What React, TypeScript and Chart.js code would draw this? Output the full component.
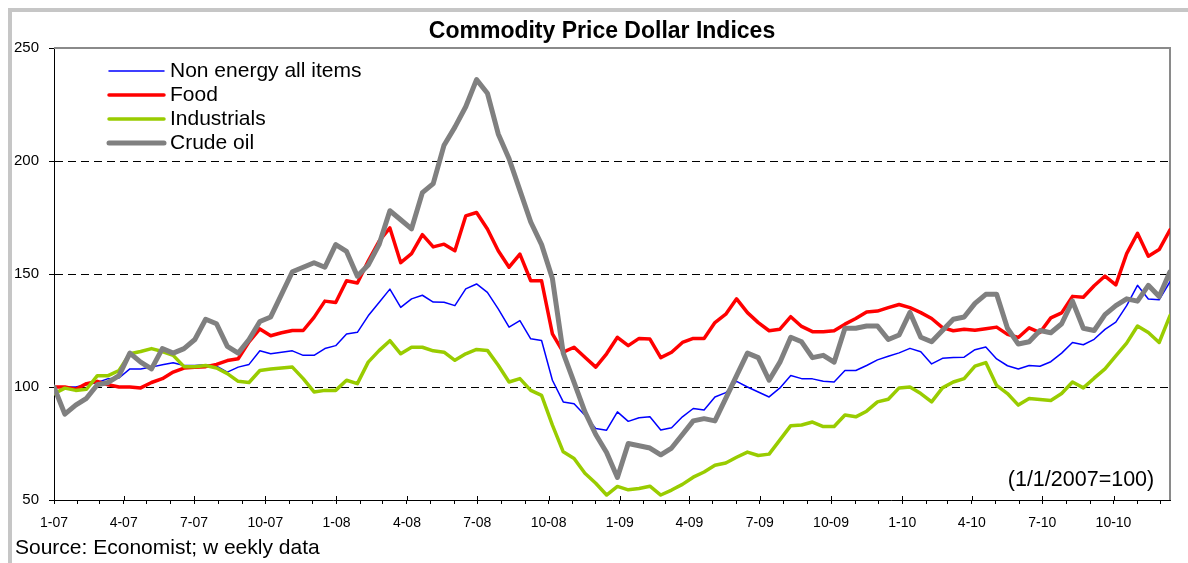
import React, { useEffect, useRef } from 'react';
import { Chart, registerables } from 'chart.js';

Chart.register(...registerables);

// Weekly index data, sampled every 2 weeks starting 1 Jan 2007 (1/1/2007 = 100)
const NON_ENERGY = [
  100, 100, 100, 101, 102, 103.7, 104, 108, 108, 108.8,
  109.8, 110.7, 109.5, 109.5, 109.8, 109.2, 106.6, 108.8, 110, 116,
  114.7, 115.4, 116, 114, 114, 117, 118.3, 123.5, 124.2, 131.5,
  137.4, 143.3, 135.2, 139, 140.6, 137.6, 137.5, 136, 143.4, 145.6,
  141.9, 134.6, 126.5, 129.4, 121.3, 120.6, 103, 93.4, 92.6, 87.5,
  81.6, 80.9, 89, 84.8, 86.4, 86.8, 81, 82, 86.8, 90.5,
  89.8, 95.6, 97.5, 102.5, 100, 97.8, 95.6, 99.6, 105.1, 103.7,
  103.6, 102.5, 102.2, 107.3, 107.3, 109.5, 112, 113.6, 115.1, 117.1,
  115.6, 110.2, 112.7, 113, 113.2, 116.5, 117.7, 112.4, 109.4, 108,
  109.5, 109.2, 111.2, 115, 119.7, 118.7, 121.1, 125.5, 128.7, 136,
  145, 138.9, 138.6, 146.6,
];

const FOOD = [
  100, 100, 99, 101.5, 102.5, 101, 100, 100, 99.6, 102,
  103.7, 106.6, 108.4, 108.7, 109, 110, 111.7, 112.5, 120, 125.7,
  122.7, 124, 125, 125, 130.8, 138, 137.4, 147, 146, 155.7,
  164.5, 170.4, 155, 159, 167.4, 162, 163.2, 160.3, 175.7, 177.2,
  169.9, 160.3, 153, 158.8, 147, 147, 123.5, 115.4, 117.6, 113.2,
  108.8, 114.7, 122, 118.3, 121.5, 121.2, 113, 115.4, 119.7, 121.5,
  121.5, 128.5, 132.2, 139, 132.9, 128.5, 124.9, 125.6, 131.1, 126.8,
  124.5, 124.4, 124.9, 127.8, 130.3, 133.2, 133.6, 135.1, 136.5, 135.1,
  132.9, 130.3, 126.3, 124.9, 125.6, 125.1, 125.8, 126.5, 123.3, 121.9,
  126.2, 124.1, 130.6, 132.8, 140.1, 139.7, 144.8, 149.1, 145.2, 159,
  168, 157.9, 160.8, 169.5,
];

const INDUSTRIALS = [
  97, 99.5, 98.5, 99, 105, 105, 107.3, 114.7, 115.7, 117,
  115.7, 114, 109, 109, 109.5, 108.4, 105.9, 102.5, 102, 107.3,
  108, 108.4, 108.8, 103.7, 97.8, 98.5, 98.5, 103, 101.5, 111,
  116.1, 120.5, 114.7, 117.6, 117.6, 116, 115.4, 111.8, 114.7, 116.6,
  116.2, 109.6, 102.2, 103.7, 98.5, 96.3, 83.1, 71.3, 68.4, 61.8,
  57.4, 52.2, 56, 54.5, 55.1, 56.1, 52.2, 54.4, 56.9, 60.1,
  62.4, 65.4, 66.4, 68.9, 71.2, 69.7, 70.3, 76.6, 82.9, 83.2,
  84.5, 82.5, 82.5, 87.6, 86.8, 89.3, 93.4, 94.6, 99.6, 100,
  97.1, 93.4, 99.6, 102.2, 103.7, 109.2, 110.8, 100.7, 97.1, 92,
  94.9, 94.5, 94, 97.1, 102.2, 99.6, 103.9, 108, 113.8, 119.4,
  127, 124.1, 119.7, 131.6,
];

const CRUDE_OIL = [
  100, 88, 92, 95, 101, 102, 105, 115, 111, 108,
  117, 115, 117, 121, 130, 128, 118, 115, 121, 129,
  131, 141, 151, 153, 155, 153, 163, 160, 149, 154,
  163, 178, 174, 170, 186, 190, 207, 215, 224, 236,
  230, 212, 201, 187, 173, 163, 148, 115, 102, 89,
  79, 71, 60, 75, 74, 73, 70, 73, 79, 85,
  86, 85, 95, 105, 115, 113, 103, 111, 122, 120,
  113, 114, 111, 126, 126, 127, 127, 121, 123, 133,
  122, 120, 125, 130, 131, 137, 141, 141, 126, 119,
  120, 125, 124, 128, 138, 126, 125, 132, 136, 139,
  138, 145, 140, 151,
];

const QUARTER_LABELS = [
  '1-07', '4-07', '7-07', '10-07',
  '1-08', '4-08', '7-08', '10-08',
  '1-09', '4-09', '7-09', '10-09',
  '1-10', '4-10', '7-10', '10-10',
];

const SERIES_NAMES = ['Non energy all items', 'Food', 'Industrials', 'Crude oil'];
const SERIES_COLORS = ['#0000FF', '#FF0000', '#99CC00', '#808080'];
const SERIES_WIDTHS = [1.5, 3.5, 3.5, 5];

const TITLE = 'Commodity Price Dollar Indices';
const NOTE = '(1/1/2007=100)';
const SOURCE = 'Source: Economist; w eekly data';

const W = 1188;
const H = 563;
const FONT = '"Liberation Sans", Arial, Helvetica, sans-serif';

export default function App() {
  const ref = useRef<HTMLCanvasElement | null>(null);

  useEffect(() => {
    if (!ref.current) return;

    const monthPos: number[] = [];
    for (let y = 2007; y <= 2010; y++) {
      for (let m = 0; m < 12; m++) {
        monthPos.push((Date.UTC(y, m, 1) - Date.UTC(2007, 0, 1)) / 864e5 / 7);
      }
    }

    const toXY = (arr: number[]) => arr.map((v, i) => ({ x: i * 2, y: v }));
    const allSeries = [NON_ENERGY, FOOD, INDUSTRIALS, CRUDE_OIL];
    const datasets = allSeries.map((s, i) => ({
      label: SERIES_NAMES[i],
      data: toXY(s),
      borderColor: SERIES_COLORS[i],
      backgroundColor: SERIES_COLORS[i],
      borderWidth: SERIES_WIDTHS[i],
      order: 3 - i,
      pointRadius: 0,
      tension: 0,
      fill: false,
      borderJoinStyle: 'round' as const,
      borderCapStyle: 'round' as const,
    }));

    const decor = {
      id: 'decor',
      beforeDraw(chart: any) {
        const c = chart.ctx;
        c.save();
        c.fillStyle = '#ffffff';
        c.fillRect(0, 0, W, H);
        c.fillStyle = '#c6c6c6';
        c.fillRect(8, 8, W, 4);
        c.fillRect(8, 8, 4, H);
        c.restore();
      },
      beforeDatasetsDraw(chart: any) {
        const c = chart.ctx;
        const a = chart.chartArea;
        c.save();
        c.strokeStyle = '#8a8a8a';
        c.lineWidth = 2;
        c.beginPath();
        c.moveTo(a.left, a.top);
        c.lineTo(a.right, a.top);
        c.lineTo(a.right, a.bottom);
        c.stroke();
        c.restore();
      },
      afterDraw(chart: any) {
        const c = chart.ctx;
        const a = chart.chartArea;
        const xs = chart.scales.x;
        c.save();
        // major (quarter) ticks cross the axis
        c.strokeStyle = '#000';
        c.lineWidth = 1;
        monthPos.forEach((p, i) => {
          if (i % 3 !== 0) return;
          const x = Math.round(xs.getPixelForValue(p)) + 0.5;
          c.beginPath();
          c.moveTo(x, a.bottom - 4);
          c.lineTo(x, a.bottom);
          c.stroke();
        });
        // title
        c.fillStyle = '#000';
        c.font = `bold 23px ${FONT}`;
        c.textAlign = 'center';
        c.textBaseline = 'middle';
        c.fillText(TITLE, 602, 32);
        // legend
        c.textAlign = 'left';
        c.font = `21px ${FONT}`;
        chart.data.datasets.forEach((ds: any, i: number) => {
          const y = 71 + 24 * i;
          c.strokeStyle = ds.borderColor;
          c.lineWidth = ds.borderWidth;
          c.lineCap = 'round';
          c.beginPath();
          c.moveTo(109, y);
          c.lineTo(164, y);
          c.stroke();
          c.fillStyle = '#000';
          c.fillText(ds.label, 170, y);
        });
        // note
        c.font = `21.5px ${FONT}`;
        c.textAlign = 'center';
        c.fillText(NOTE, 1081, 480);
        // source
        c.font = `21px ${FONT}`;
        c.textAlign = 'left';
        c.fillText(SOURCE, 15, 548);
        c.restore();
      },
    };

    const chart = new Chart(ref.current, {
      type: 'line',
      data: { datasets },
      options: {
        animation: false,
        responsive: false,
        devicePixelRatio: 1,
        layout: { padding: { left: 0, top: 48, right: 18, bottom: 0 } },
        plugins: {
          legend: { display: false },
          tooltip: { enabled: false },
          title: { display: false },
        },
        elements: { point: { radius: 0 }, line: { tension: 0 } },
        scales: {
          x: {
            type: 'linear',
            min: 0,
            max: 206,
            afterBuildTicks: (s: any) => {
              s.ticks = monthPos.map((v) => ({ value: v }));
            },
            afterFit: (s: any) => {
              s.height = 63;
            },
            grid: {
              drawOnChartArea: false,
              drawTicks: true,
              tickLength: 4,
              color: '#000',
              tickColor: '#000',
              lineWidth: 1,
            },
            border: { display: true, color: '#000', width: 1 },
            ticks: {
              autoSkip: false,
              maxRotation: 0,
              minRotation: 0,
              padding: 11,
              color: '#000',
              font: { family: FONT, size: 14 },
              callback: (_v: any, i: number) => (i % 3 === 0 ? QUARTER_LABELS[i / 3] : ''),
            },
          },
          y: {
            min: 50,
            max: 250,
            afterFit: (s: any) => {
              s.width = 54;
            },
            ticks: {
              stepSize: 50,
              padding: 10,
              color: '#000',
              font: { family: FONT, size: 15 },
            },
            grid: {
              drawOnChartArea: true,
              drawTicks: true,
              tickLength: 5,
              tickColor: '#000',
              tickBorderDash: [],
              lineWidth: 1,
              color: (ctx: any) =>
                ctx.tick && (ctx.tick.value === 50 || ctx.tick.value === 250) ? 'rgba(0,0,0,0)' : '#000',
            },
            border: { display: true, color: '#000', width: 1, dash: [8, 5] },
          },
        },
      } as any,
      plugins: [decor],
    });

    return () => chart.destroy();
  }, []);

  return (
    <div style={{ position: 'absolute', left: 0, top: 0, width: W, height: H, background: '#fff' }}>
      <canvas ref={ref} width={W} height={H} style={{ display: 'block', width: W, height: H }} />
    </div>
  );
}
